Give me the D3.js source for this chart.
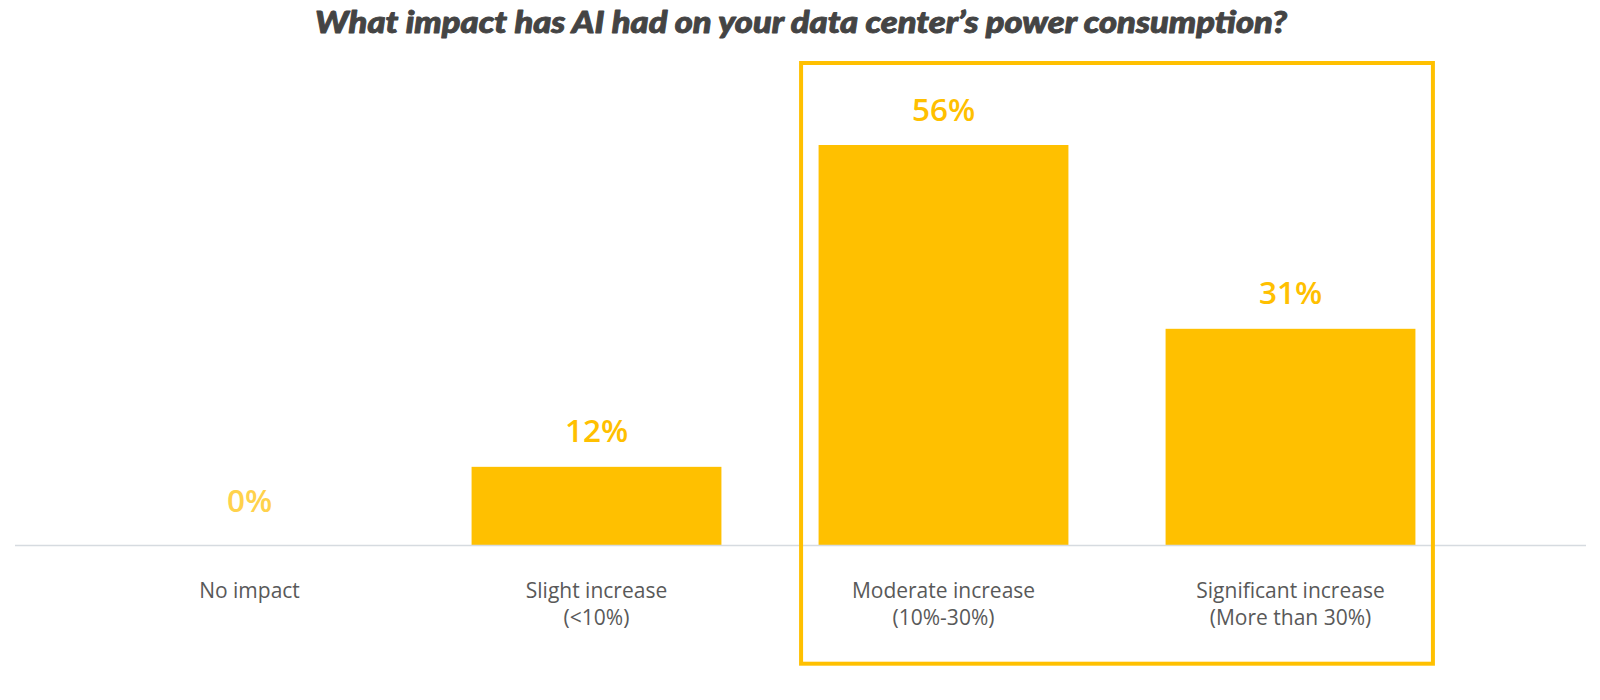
<!DOCTYPE html>
<html>
<head>
<meta charset="utf-8">
<script src="https://cdn.jsdelivr.net/npm/d3@7"></script>
<style>
  html, body { margin: 0; padding: 0; background: #ffffff; }
  svg { display: block; }
</style>
</head>
<body>
<svg id="chart" width="1600" height="700"></svg>
<script>
// ---- data ----
const title = "What impact has AI had on your data center’s power consumption?";
const categories = ["No impact", "Slight increase", "Moderate increase", "Significant increase"];
const subLabels = ["", "(<10%)", "(10%-30%)", "(More than 30%)"];
// bar heights
const values = [0, 11.0, 56, 30.3];
// value labels as printed
const valueLabels = ["0%", "12%", "56%", "31%"];
// categories enclosed by the highlight box
const highlighted = ["Moderate increase", "Significant increase"];

// ---- layout ----
const svg = d3.select("#chart");
const gold = "#FFC000";

const x = d3.scaleBand()
  .domain(categories)
  .range([76, 1464])
  .paddingInner(0.28)
  .paddingOuter(0.14);

const y = d3.scaleLinear()
  .domain([0, 56])
  .range([545.5, 145]);

// title
const t = svg.append("text")
  .attr("x", 801)
  .attr("y", 33)
  .attr("text-anchor", "middle")
  .attr("font-family", "Lato, 'Open Sans', sans-serif")
  .attr("font-weight", 900)
  .attr("font-style", "italic")
  .attr("font-size", 30)
  .attr("fill", "#444444")
  .attr("stroke", "#444444")
  .attr("stroke-width", 0.9)
  .attr("stroke-linejoin", "round")
  .text(title);
t.attr("textLength", 972).attr("lengthAdjust", "spacingAndGlyphs");

// bars
svg.append("g").selectAll("rect")
  .data(categories)
  .join("rect")
  .attr("x", d => x(d))
  .attr("width", x.bandwidth())
  .attr("y", (d, i) => y(values[i]))
  .attr("height", (d, i) => y(0) - y(values[i]))
  .attr("fill", gold);

// baseline axis
svg.append("line")
  .attr("x1", 15).attr("x2", 1586)
  .attr("y1", y(0)).attr("y2", y(0))
  .attr("stroke", "#d6dbe0")
  .attr("stroke-width", 1.6);

// value labels
svg.append("g").selectAll("text")
  .data(categories)
  .join("text")
  .attr("x", d => x(d) + x.bandwidth() / 2)
  .attr("y", (d, i) => y(values[i]) - (values[i] === 0 ? 34 : 24.5))
  .attr("text-anchor", "middle")
  .attr("font-family", "'Open Sans', sans-serif")
  .attr("font-weight", 600)
  .attr("font-size", 31.5)
  .attr("fill", (d, i) => values[i] === 0 ? "#FFD24C" : gold)
  .text((d, i) => valueLabels[i]);

// category labels
const cl = svg.append("g").selectAll("text")
  .data(categories)
  .join("text")
  .attr("text-anchor", "middle")
  .attr("font-family", "'Open Sans', sans-serif")
  .attr("font-weight", 400)
  .attr("font-size", 21)
  .attr("fill", "#595959");
cl.append("tspan")
  .attr("x", d => x(d) + x.bandwidth() / 2)
  .attr("y", 598)
  .text(d => d);
cl.append("tspan")
  .attr("x", d => x(d) + x.bandwidth() / 2)
  .attr("y", 625)
  .text((d, i) => subLabels[i]);

// highlight box
const hx0 = x(highlighted[0]) - 17.5;
const hx1 = x(highlighted[highlighted.length - 1]) + x.bandwidth() + 17.5;
svg.append("rect")
  .attr("x", hx0)
  .attr("y", 63)
  .attr("width", hx1 - hx0)
  .attr("height", 663.7 - 63)
  .attr("fill", "none")
  .attr("stroke", gold)
  .attr("stroke-width", 4);
</script>
</body>
</html>
